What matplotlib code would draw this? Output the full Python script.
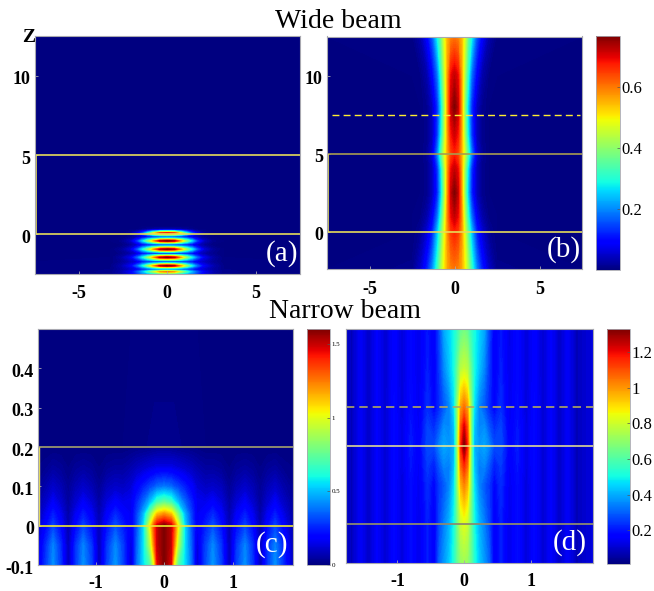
import numpy as np
import matplotlib as mpl
mpl.use('Agg')
import matplotlib.pyplot as plt
from matplotlib.cm import ScalarMappable
from matplotlib.colors import Normalize
from matplotlib.transforms import ScaledTranslation

plt.rcParams['font.family'] = ['Liberation Serif', 'DejaVu Serif']

W, H = 654, 591

# half profiles (x >= 0), mirrored when drawn
# panel a
xa = [0, 0.4, 0.8, 1.1, 1.4, 1.7, 2.1, 2.6, 3.2, 7.5]
za = [-2.5, -2.35, -2.2, -1.98, -1.73, -1.45, -1.2, -0.94, -0.66, -0.41, -0.16, 0.08, 0.3, 0.5, 12.5]
ia = [[.40, .38, .32, .28, .24, .16, .08, .03, .008, 0],
      [.78, .74, .56, .42, .30, .20, .10, .04, .010, 0],
      [.12, .12, .14, .15, .13, .10, .06, .03, .008, 0],
      [1.0, .95, .72, .52, .36, .22, .10, .04, .005, 0],
      [.08, .08, .11, .13, .12, .08, .05, .02, .003, 0],
      [1.0, .95, .72, .52, .36, .22, .09, .03, 0, 0],
      [.08, .08, .10, .12, .11, .07, .03, .01, 0, 0],
      [1.0, .95, .72, .52, .36, .20, .07, .02, 0, 0],
      [.08, .08, .10, .11, .10, .06, .02, 0, 0, 0],
      [1.0, .95, .70, .50, .33, .17, .05, .01, 0, 0],
      [.08, .08, .10, .10, .08, .04, .01, 0, 0, 0],
      [.90, .85, .60, .38, .20, .08, .015, 0, 0, 0],
      [.04, .04, .03, .02, .01, 0, 0, 0, 0, 0],
      [0, 0, 0, 0, 0, 0, 0, 0, 0, 0],
      [0, 0, 0, 0, 0, 0, 0, 0, 0, 0]]

# panel b
xb = [0, 0.2, 0.4, 0.6, 0.8, 1.0, 1.3, 1.6, 2.0, 2.5, 7.5]
zb = [-2.4, 0, 1, 2.5, 4, 5, 6.2, 8, 10, 12.5]
ib = [[.60, .59, .56, .50, .42, .32, .20, .12, .05, .008, 0],
      [.67, .65, .58, .47, .35, .24, .12, .06, .015, 0, 0],
      [.72, .69, .59, .44, .30, .18, .08, .03, .005, 0, 0],
      [.765, .72, .58, .40, .24, .12, .04, .01, 0, 0, 0],
      [.72, .69, .57, .41, .26, .13, .04, .01, 0, 0, 0],
      [.67, .64, .56, .46, .33, .19, .06, .015, 0, 0, 0],
      [.71, .68, .57, .42, .27, .14, .04, .01, 0, 0, 0],
      [.765, .72, .58, .40, .25, .13, .045, .012, 0, 0, 0],
      [.72, .69, .57, .43, .30, .18, .09, .03, .005, 0, 0],
      [.60, .59, .55, .47, .36, .28, .16, .09, .03, .003, 0]]

# panel c
xc = [0, .1, .14, .2, .3, .4, .48, .6, .71, .83, .95, 1.06, 1.18, 1.29, 1.4, 1.51, 1.62, 1.73, 1.9]
zc = [-0.1, -0.05, 0, 0.03, 0.06, 0.1, 0.15, 0.2, 0.5]
ic = [[1.6, 1.45, 1.05, .72, .55, .36, .10, .30, .43, .30, .07, .30, .42, .28, .07, .28, .42, .28, .05],
      [1.6, 1.5, 1.28, .92, .55, .34, .12, .29, .41, .28, .07, .28, .40, .27, .07, .27, .40, .26, .05],
      [1.6, 1.5, 1.35, 1.05, .54, .31, .16, .24, .32, .22, .07, .21, .30, .20, .06, .20, .30, .19, .04],
      [1.2, 1.12, 1.0, .80, .48, .29, .16, .20, .26, .18, .06, .17, .24, .16, .05, .16, .24, .15, .03],
      [.74, .68, .60, .50, .36, .25, .16, .15, .18, .13, .05, .12, .17, .11, .04, .11, .17, .10, .03],
      [.38, .36, .33, .30, .24, .18, .12, .09, .10, .08, .03, .07, .10, .07, .03, .07, .10, .06, .02],
      [.14, .14, .13, .12, .10, .08, .06, .04, .04, .03, .01, .03, .04, .03, .01, .03, .04, .02, .01],
      [.02, .02, .02, .015, .01, .01, .005, 0, 0, 0, 0, 0, 0, 0, 0, 0, 0, 0, 0],
      [0, 0, 0, 0, 0, 0, 0, 0, 0, 0, 0, 0, 0, 0, 0, 0, 0, 0, 0]]

# panel d
xd = [0, .05, .1, .15, .22, .3, .37, .45, .55, .68, .8, .93, 1.05, 1.18, 1.3, 1.43, 1.55, 1.68, 1.95]
zd = [-0.1, 0, 0.1, 0.15, 0.2, 0.25, 0.3, 0.4, 0.5]
id_ = [[.72, .70, .62, .52, .43, .36, .30, .14, .20, .12, .18, .10, .17, .09, .15, .08, .14, .07, .11],
       [.82, .78, .64, .50, .40, .33, .26, .14, .20, .12, .18, .10, .17, .09, .15, .08, .14, .07, .11],
       [1.02, .95, .68, .46, .34, .28, .24, .16, .22, .13, .18, .10, .17, .09, .15, .08, .14, .07, .11],
       [1.15, 1.05, .68, .42, .33, .34, .28, .20, .24, .14, .19, .11, .17, .09, .15, .08, .14, .07, .11],
       [1.33, 1.15, .70, .40, .36, .38, .34, .26, .26, .15, .20, .11, .17, .09, .15, .08, .14, .07, .11],
       [1.22, 1.08, .68, .42, .34, .35, .28, .22, .25, .14, .19, .11, .17, .09, .15, .08, .14, .07, .11],
       [1.05, .98, .70, .46, .34, .28, .22, .16, .22, .13, .18, .10, .17, .09, .15, .08, .14, .07, .11],
       [.78, .75, .62, .50, .42, .34, .24, .14, .20, .12, .17, .10, .16, .09, .15, .08, .14, .07, .11],
       [.65, .62, .55, .50, .44, .38, .26, .14, .19, .12, .17, .10, .16, .09, .15, .08, .14, .07, .11]]

xticks_wide = [-5, 0, 5]
xticks_narrow = [-1, 0, 1]
yticks_wide = [0, 5, 10]
yticks_c = [-0.1, 0, 0.1, 0.2, 0.3, 0.4]
ylabels_c = ['-0.1', '0', '0.1', '0.2', '0.3', '0.4']
cticks_b = [0.2, 0.4, 0.6]
cticks_c = [0, 0.5, 1, 1.5]
cticks_d = [0.2, 0.4, 0.6, 0.8, 1, 1.2]

SPINE = '#a8a8b0'
GOLD = '#e6dc5a'
GREY = '#8c8a70'
PALE = '#f2ec90'


def px_axes(fig, l, t, r, b):
    return fig.add_axes([l / W, 1 - b / H, (r - l) / W, (b - t) / H])


def heat(ax, x, z, vals, vmax, xlim, ylim):
    x = np.array(x)
    vals = np.array(vals)
    xx = np.r_[-x[:0:-1], x]
    full = np.hstack([vals[:, :0:-1], vals])
    ax.contourf(xx, z, full, levels=np.linspace(0, vmax, 129), cmap='jet',
                extend='both', antialiased=False)
    ax.set_facecolor('#000080')
    ax.set_xlim(xlim)
    ax.set_ylim(ylim)
    for s in ax.spines.values():
        s.set_color(SPINE)
        s.set_linewidth(0.8)
    ax.tick_params(direction='in', length=2, width=0.6, color=SPINE, labelsize=13)


def ticks(ax, xt, yt=None, ylab=None, xpad=8):
    ax.set_xticks(xt)
    ax.set_xticklabels([str(v) for v in xt], fontweight='bold')
    ax.tick_params(axis='x', pad=xpad)
    if yt is None:
        ax.set_yticks([])
    else:
        ax.set_yticks(yt)
        ax.set_yticklabels(ylab if ylab else [str(v) for v in yt], fontweight='bold')
        ax.tick_params(axis='y', pad=3)
        # labels sit a little below their tick in the original
        down = ScaledTranslation(0, -2 / 100, fig.dpi_scale_trans)
        for lab in ax.get_yticklabels():
            lab.set_transform(lab.get_transform() + down)


def cbar(fig, box, vmax, vmin, tk, labels=None, size=12):
    cax = px_axes(fig, *box)
    cb = fig.colorbar(ScalarMappable(Normalize(vmin, vmax), 'jet'), cax=cax)
    cb.set_ticks(tk)
    cb.set_ticklabels(labels if labels else [str(v) for v in tk])
    cb.outline.set_edgecolor(SPINE)
    cb.outline.set_linewidth(0.6)
    cb.ax.tick_params(direction='in', length=2, width=0.5, color='#555555',
                      labelsize=size, pad=1)


fig = plt.figure(figsize=(W / 100, H / 100), dpi=100)
fig.patch.set_facecolor('white')

# (a)
ax = px_axes(fig, 34.5, 36, 300, 274)
heat(ax, xa, za, ia, 1.0, (-7.5, 7.5), (-2.5, 12.5))
ticks(ax, xticks_wide, yticks_wide)
ax.axhline(0, color=GOLD, lw=1.2)
ax.axhline(5, color=GOLD, lw=1.2)
ax.vlines(-7.42, 0, 5, color=GOLD, lw=1.2)
ax.text(0.992, 0.03, '(a)', transform=ax.transAxes, color='white', fontsize=21, ha='right', va='bottom')
fig.text(29 / W, 1 - 38 / H, 'Z', fontsize=14, fontweight='bold', ha='center', va='center')

# (b)
ax = px_axes(fig, 327, 36.5, 582, 269.5)
heat(ax, xb, zb, ib, 0.767, (-7.5, 7.5), (-2.4, 12.5))
ticks(ax, xticks_wide, yticks_wide)
ax.axhline(5, color='#a89c50', lw=1.2)
ax.axhline(0, color=GOLD, lw=1.2)
ax.vlines(-7.42, 0, 5, color=GOLD, lw=1.2)
ax.plot([-7.2, 7.4], [7.5, 7.5], color='#ffee30', lw=1.0, ls=(0, (5, 3)))
ax.text(0.995, 0.03, '(b)', transform=ax.transAxes, color='white', fontsize=21, ha='right', va='bottom')
cbar(fig, (596, 36, 619.5, 270), 0.767, 0.0, cticks_b)

# (c)
ax = px_axes(fig, 38, 329, 293, 565)
heat(ax, xc, zc, ic, 1.6, (-1.84, 1.88), (-0.1, 0.5))
ticks(ax, xticks_narrow, yticks_c, ylabels_c, xpad=7)
ax.axhline(0.2, color=GREY, lw=1.4)
ax.axhline(0, color='#f0e830', lw=1.2)
ax.vlines(-1.82, 0, 0.2, color=GOLD, lw=1.0)
ax.text(0.98, 0.03, '(c)', transform=ax.transAxes, color='white', fontsize=21, ha='right', va='bottom')
cbar(fig, (307, 329, 330, 565), 1.6, 0.0, cticks_c, size=5)

# (d)
ax = px_axes(fig, 346, 329, 593, 563)
heat(ax, xd, zd, id_, 1.33, (-1.77, 1.93), (-0.1, 0.5))
ticks(ax, xticks_narrow, xpad=7)
ax.axhline(0.2, color=PALE, lw=1.1)
ax.axhline(0, color=GREY, lw=1.3)
ax.plot([-1.77, 1.93], [0.3, 0.3], color='#b0a860', lw=1.2, ls=(0, (5, 3)))
ax.text(0.975, 0.03, '(d)', transform=ax.transAxes, color='white', fontsize=21, ha='right', va='bottom')
cbar(fig, (607, 329, 630, 564), 1.33, 0.01, cticks_d)

fig.text(338 / W, 1 - 22 / H, 'Wide beam', fontsize=20, ha='center', va='center')
fig.text(345 / W, 1 - 312 / H, 'Narrow beam', fontsize=20, ha='center', va='center')

fig.savefig('out.png', dpi=100)
